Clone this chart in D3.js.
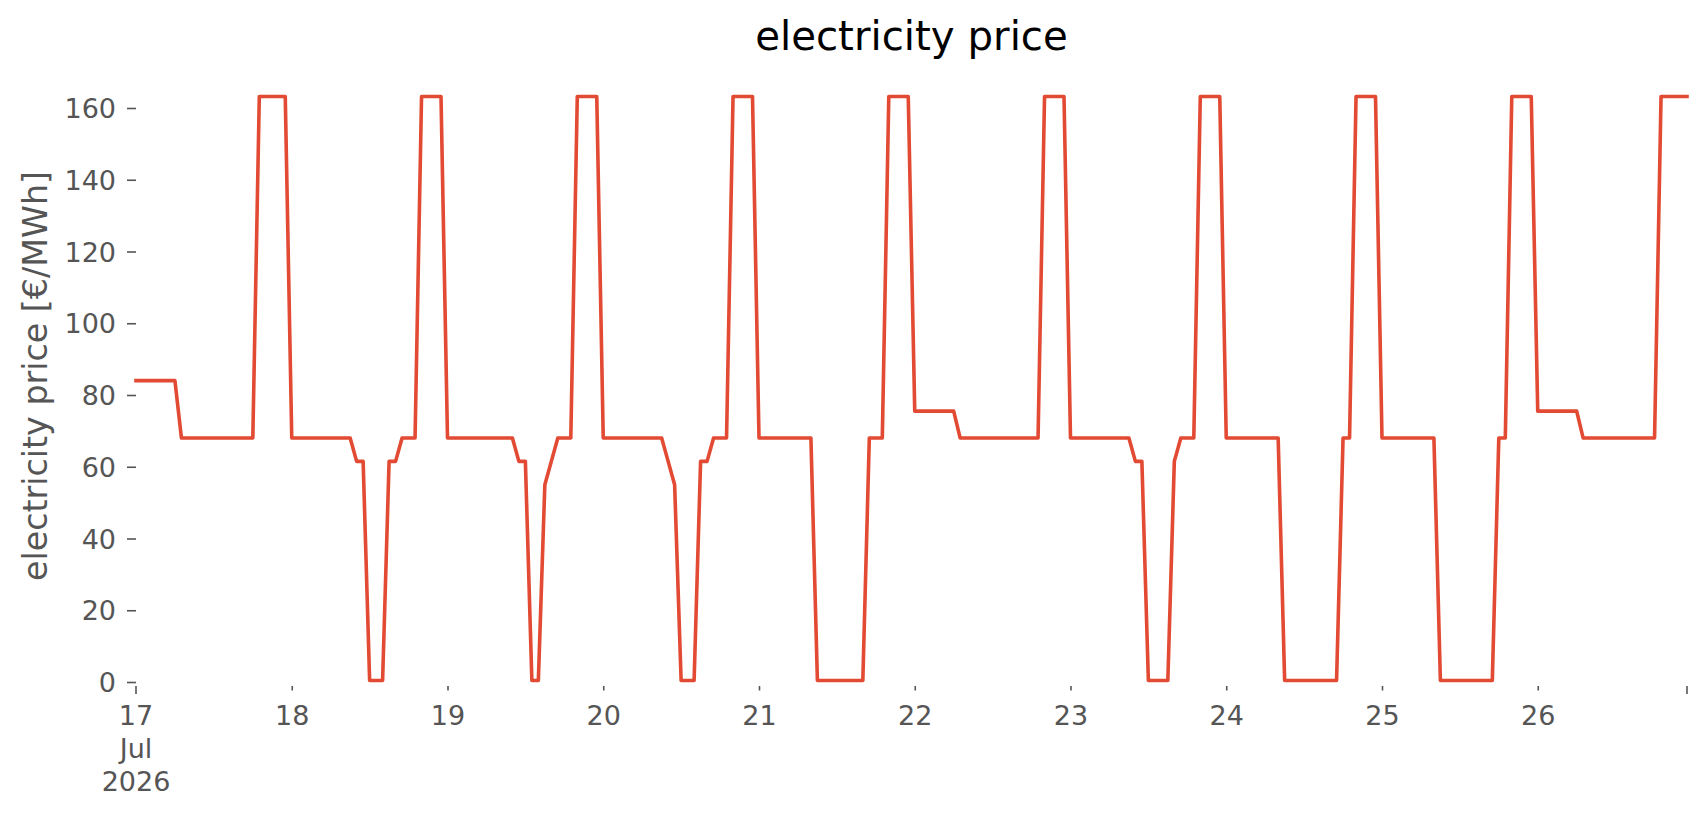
<!DOCTYPE html>
<html>
<head>
<meta charset="utf-8">
<script src="https://cdn.jsdelivr.net/npm/d3@7"></script>
<style>
  body { margin: 0; background: #fff; }
  text { font-family: "DejaVu Sans", sans-serif; }
</style>
</head>
<body>
<div id="chart"></div>
<script>
// hourly prices per day (h0 .. h23)
const jul17 = [84, 84, 84, 84, 84, 84, 84, 68, 68, 68, 68, 68, 68, 68, 68, 68, 68, 68, 68, 163.2, 163.2, 163.2, 163.2, 163.2];
const jul18 = [68, 68, 68, 68, 68, 68, 68, 68, 68, 68, 61.5, 61.5, 0.4, 0.4, 0.4, 61.5, 61.5, 68, 68, 68, 163.2, 163.2, 163.2, 163.2];
const jul19 = [68, 68, 68, 68, 68, 68, 68, 68, 68, 68, 68, 61.5, 61.5, 0.4, 0.4, 55, 61.5, 68, 68, 68, 163.2, 163.2, 163.2, 163.2];
const jul20 = [68, 68, 68, 68, 68, 68, 68, 68, 68, 68, 61.5, 55, 0.4, 0.4, 0.4, 61.5, 61.5, 68, 68, 68, 163.2, 163.2, 163.2, 163.2];
const jul21 = [68, 68, 68, 68, 68, 68, 68, 68, 68, 0.4, 0.4, 0.4, 0.4, 0.4, 0.4, 0.4, 0.4, 68, 68, 68, 163.2, 163.2, 163.2, 163.2];
const jul22 = [75.5, 75.5, 75.5, 75.5, 75.5, 75.5, 75.5, 68, 68, 68, 68, 68, 68, 68, 68, 68, 68, 68, 68, 68, 163.2, 163.2, 163.2, 163.2];
const jul23 = [68, 68, 68, 68, 68, 68, 68, 68, 68, 68, 61.5, 61.5, 0.4, 0.4, 0.4, 0.4, 61.5, 68, 68, 68, 163.2, 163.2, 163.2, 163.2];
const jul24 = [68, 68, 68, 68, 68, 68, 68, 68, 68, 0.4, 0.4, 0.4, 0.4, 0.4, 0.4, 0.4, 0.4, 0.4, 68, 68, 163.2, 163.2, 163.2, 163.2];
const jul25 = [68, 68, 68, 68, 68, 68, 68, 68, 68, 0.4, 0.4, 0.4, 0.4, 0.4, 0.4, 0.4, 0.4, 0.4, 68, 68, 163.2, 163.2, 163.2, 163.2];
const jul26 = [75.5, 75.5, 75.5, 75.5, 75.5, 75.5, 75.5, 68, 68, 68, 68, 68, 68, 68, 68, 68, 68, 68, 68, 163.2, 163.2, 163.2, 163.2, 163.2];

const days = [jul17, jul18, jul19, jul20, jul21, jul22, jul23, jul24, jul25, jul26];
const yTicks = [0, 20, 40, 60, 80, 100, 120, 140, 160];
const dayLabels = ["18", "19", "20", "21", "22", "23", "24", "25", "26"];
const firstLabel = ["17", "Jul", "2026"];

const WIDTH = 1706, HEIGHT = 815;
const LEFT = 136, RIGHT = 1687, Y0 = 682, Y160 = 108, AXIS_Y = 686;
const GREY = "#555555", RED = "#E24A33";

const start = new Date(Date.UTC(2026, 6, 17, 0));
const data = [];
days.forEach((vals, di) => {
  vals.forEach((v, h) => {
    data.push({ t: d3.utcHour.offset(start, di * 24 + h), v: v });
  });
});
const end = data[data.length - 1].t;

const x = d3.scaleUtc().domain([start, end]).range([LEFT, RIGHT]);
const y = d3.scaleLinear().domain([0, 160]).range([Y0, Y160]);

const svg = d3.select("#chart").append("svg")
  .attr("width", WIDTH).attr("height", HEIGHT);

// title
svg.append("text")
  .attr("x", (LEFT + RIGHT) / 2).attr("y", 50)
  .attr("text-anchor", "middle")
  .style("font-size", "40.3px").attr("fill", "#000")
  .text("electricity price");

// y label
svg.append("text")
  .attr("transform", "translate(47," + ((Y0 + Y160) / 2 - 19) + ") rotate(-90)")
  .attr("text-anchor", "middle")
  .style("font-size", "33.3px").attr("fill", GREY)
  .text("electricity price [€/MWh]");

// y axis
const yAxis = svg.append("g")
  .attr("transform", "translate(" + LEFT + ",0)")
  .call(d3.axisLeft(y).tickValues(yTicks).tickSize(9).tickPadding(11));
yAxis.select(".domain").remove();
yAxis.selectAll("line").attr("stroke", GREY).attr("stroke-width", 1.6);
yAxis.selectAll("text").attr("fill", GREY).style("font-size", "27px")
  .style("font-family", "DejaVu Sans").attr("dy", "0.36em");

// x axis, day ticks (minor)
const dayTicks = dayLabels.map((d, i) => d3.utcDay.offset(start, i + 1));
const xAxis = svg.append("g")
  .attr("transform", "translate(0," + AXIS_Y + ")")
  .call(d3.axisBottom(x).tickValues(dayTicks).tickSize(4.5).tickPadding(15)
    .tickFormat((d, i) => dayLabels[i]));
xAxis.select(".domain").remove();
xAxis.selectAll("line").attr("stroke", GREY).attr("stroke-width", 1.6);
xAxis.selectAll("text").attr("fill", GREY).style("font-size", "27px")
  .style("font-family", "DejaVu Sans");

// major ticks at the ends
const major = svg.append("g").attr("transform", "translate(0," + AXIS_Y + ")");
major.selectAll("line").data([start, end]).enter().append("line")
  .attr("x1", d => x(d)).attr("x2", d => x(d))
  .attr("y1", 0).attr("y2", 8)
  .attr("stroke", GREY).attr("stroke-width", 1.6);
const fl = major.append("text")
  .attr("x", x(start)).attr("y", 39)
  .attr("text-anchor", "middle").attr("fill", GREY)
  .style("font-size", "27px");
firstLabel.forEach((s, i) => {
  fl.append("tspan").attr("x", x(start)).attr("dy", i === 0 ? 0 : 33).text(s);
});

// price line
const line = d3.line().x(d => x(d.t)).y(d => y(d.v));
svg.append("path")
  .datum(data)
  .attr("d", line)
  .attr("fill", "none")
  .attr("stroke", RED)
  .attr("stroke-width", 3.6)
  .attr("stroke-linejoin", "round")
  .attr("stroke-linecap", "square");
</script>
</body>
</html>
